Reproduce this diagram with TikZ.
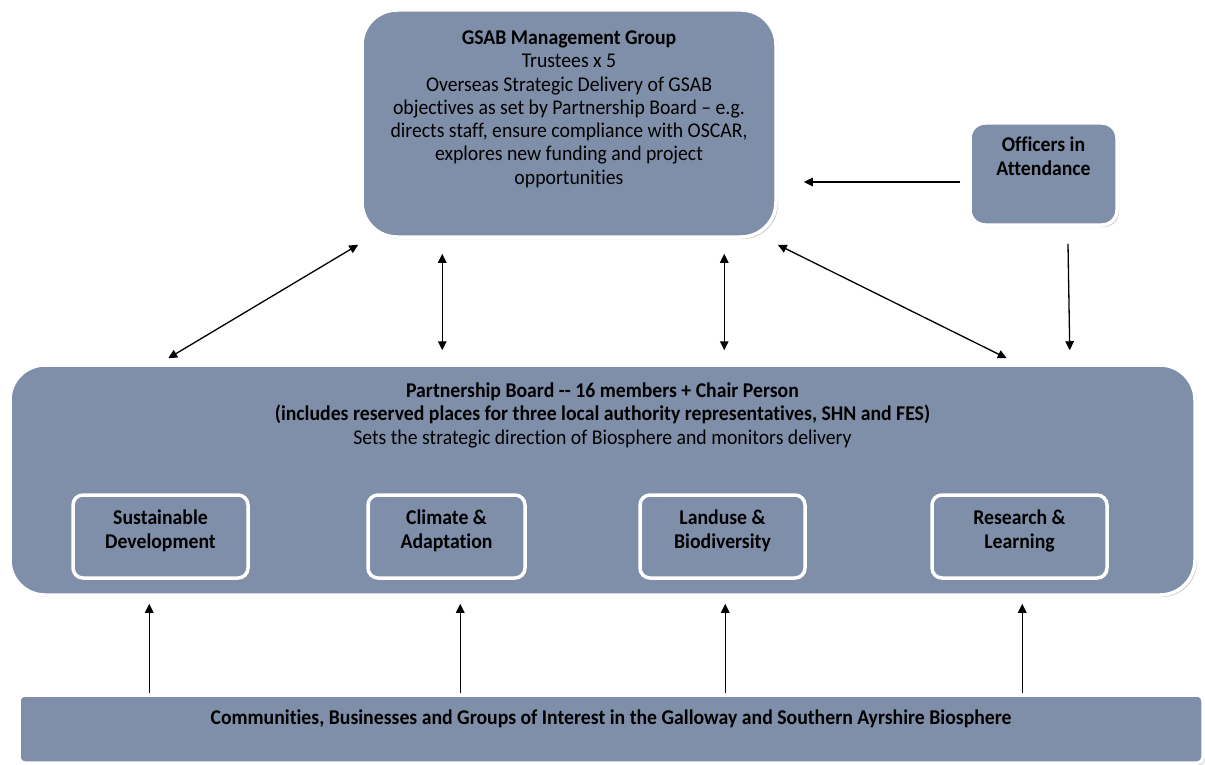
\documentclass[tikz,border=0pt]{standalone}
\usepackage{fontspec}
\setmainfont{Carlito}[FakeStretch=0.94, Ligatures=NoCommon]
\usetikzlibrary{arrows.meta,shadows}
\definecolor{panelblue}{RGB}{127,143,169}
\tikzset{
	panel/.style={draw=white, line width=3.5pt, fill=panelblue, rounded corners=#1,
		drop shadow={shadow xshift=2pt, shadow yshift=-2pt, fill=black!40},
		align=center, inner sep=0pt, font=\fontsize{21}{23.3}\selectfont},
	link/.style={line width=1.3pt, >={Triangle[length=9pt,width=8.5pt]}},
}

\begin{document}
\begin{tikzpicture}[x=1pt,y=-1pt]
	\useasboundingbox (0,0) rectangle (1205,765);
	% top group
	\node[panel=35pt, minimum width=414pt, minimum height=227pt, text depth=32pt] (mg) at (569,123.5)
	{\textbf{GSAB Management Group}\\Trustees x 5\\Overseas Strategic Delivery of GSAB\\objectives as set by Partnership Board – e.g.\\directs staff, ensure compliance with OSCAR,\\explores new funding and project\\opportunities};
	\node[panel=15pt, minimum width=147pt, minimum height=102pt, text depth=36pt] (off) at (1043.5,174)
	{\textbf{Officers in}\\\textbf{Attendance}};
	% board with its four groups
	\node[panel=35pt, minimum width=1185pt, minimum height=230pt, text depth=133pt] (pb) at (602.5,480)
	{\textbf{Partnership Board -{}- 16 members + Chair Person}\\\textbf{(includes reserved places for three local authority representatives, SHN and FES)}\\Sets the strategic direction of Biosphere and monitors delivery};
	\node[panel=10pt, minimum width=175pt, minimum height=83pt, text depth=15pt] (sd) at (160.5,536.5) {\textbf{Sustainable}\\\textbf{Development}};
	\node[panel=10pt, minimum width=157pt, minimum height=83pt, text depth=15pt] (ca) at (446.5,536.5) {\textbf{Climate \&}\\\textbf{Adaptation}};
	\node[panel=10pt, minimum width=165pt, minimum height=83pt, text depth=15pt] (lb) at (722.5,536.5) {\textbf{Landuse \&}\\\textbf{Biodiversity}};
	\node[panel=10pt, minimum width=175pt, minimum height=83pt, text depth=15pt] (rl) at (1019.5,536.5) {\textbf{Research \&}\\\textbf{Learning}};
	% communities
	\node[panel=6pt, minimum width=1184pt, minimum height=68pt, text depth=23pt] (com) at (611,729)
	{\textbf{Communities, Businesses and Groups of Interest in the Galloway and Southern Ayrshire Biosphere}};

	\draw[link,<->] ([xshift=-2pt,yshift=-6pt]mg.south west) -- ([xshift=160pt,yshift=5pt]pb.north west);
	\draw[link,<->] ([xshift=82pt,yshift=-15pt]mg.south west) -- ([xshift=434pt,yshift=13pt]pb.north west);
	\draw[link,<->] ([xshift=364pt,yshift=-15pt]mg.south west) -- ([xshift=716pt,yshift=13pt]pb.north west);
	\draw[link,<->] ([yshift=-6pt]mg.south east) -- ([xshift=-190pt,yshift=5pt]pb.north east);
	\draw[link,->] ([xshift=-8pt,yshift=-8pt]off.west) -- ([xshift=26pt,yshift=-58.5pt]mg.east);
	\draw[link,->] ([xshift=24.5pt,yshift=-17pt]off.south) -- ([xshift=-127pt,yshift=13pt]pb.north east);
	\foreach \x in {132,443,708,1005} % up from the communities
	\draw[link,->] ([xshift=\x pt]com.north west) -- ([xshift=\x pt+9pt,yshift=-7pt]pb.south west);
\end{tikzpicture}
\end{document}
